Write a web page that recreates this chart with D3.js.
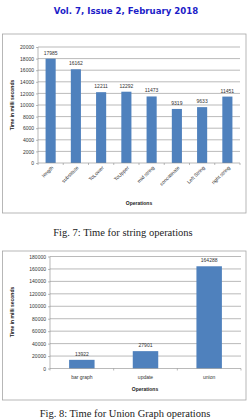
<!DOCTYPE html>
<html>
<head>
<meta charset="utf-8">
<script src="https://cdn.jsdelivr.net/npm/d3@7"></script>
<style>
  body { margin: 0; background: #fff; }
  svg { display: block; }
  .tick text { font-family: "Liberation Sans", Arial, sans-serif; font-size: 5px; fill: #333; }
  .lbl { font-family: "Liberation Sans", Arial, sans-serif; font-size: 5px; fill: #333; }
  .atitle { font-family: "Liberation Sans", Arial, sans-serif; font-size: 5px; font-weight: bold; fill: #222; }
  .cap { font-family: "Liberation Serif", "Times New Roman", serif; font-size: 10.5px; fill: #222; }
</style>
</head>
<body>
<svg id="page" width="252" height="420"></svg>
<script>
var stringOps = ["length", "substitute", "ToLower", "ToUpper", "mid string", "concatinate", "Left String", "right string"],
    stringTimes = [17985, 16162, 12211, 12292, 11473, 9319, 9633, 11451],
    stringTicks = [0, 2000, 4000, 6000, 8000, 10000, 12000, 14000, 16000, 18000, 20000];

var unionOps = ["bar graph", "update", "union"],
    unionTimes = [13922, 27901, 164288],
    unionTicks = [0, 20000, 40000, 60000, 80000, 100000, 120000, 140000, 160000, 180000];

var svg = d3.select("#page");

svg.append("text")
    .attr("x", 126).attr("y", 14)
    .attr("text-anchor", "middle")
    .style("font-family", "DejaVu Sans, Verdana, sans-serif")
    .style("font-weight", "bold")
    .style("font-size", "8.6px")
    .style("fill", "#1c1cc8")
    .text("Vol. 7, Issue 2, February 2018");

// box = [x, y, w, h], plot = [left, top, right, bottom]
function drawChart(cats, vals, ticks, box, plot, rotate) {
  var g = svg.append("g");

  g.append("rect")
      .attr("x", box[0]).attr("y", box[1])
      .attr("width", box[2]).attr("height", box[3])
      .attr("fill", "#fff").attr("stroke", "#a6a6a6").attr("stroke-width", 0.8);

  var x = d3.scaleBand().domain(cats).range([plot[0], plot[2]]).paddingInner(0.6).paddingOuter(0.3);
  var y = d3.scaleLinear().domain([0, d3.max(ticks)]).range([plot[3], plot[1]]);

  // gridlines
  g.selectAll(".grid").data(ticks.slice(1)).enter().append("line")
      .attr("x1", plot[0]).attr("x2", plot[2])
      .attr("y1", function(d) { return y(d); }).attr("y2", function(d) { return y(d); })
      .attr("stroke", "#8c8c8c").attr("stroke-width", 0.6);

  var yAxis = g.append("g")
      .attr("transform", "translate(" + plot[0] + ",0)")
      .call(d3.axisLeft(y).tickValues(ticks).tickSize(2).tickPadding(2).tickFormat(d3.format("d")));
  yAxis.selectAll("line, path").attr("stroke", "#8c8c8c").attr("stroke-width", 0.6);
  yAxis.select(".domain").attr("d", "M0," + plot[3] + "V" + plot[1]);

  g.selectAll(".bar").data(vals).enter().append("rect")
      .attr("x", function(d, i) { return x(cats[i]); })
      .attr("width", x.bandwidth())
      .attr("y", function(d) { return y(d); })
      .attr("height", function(d) { return plot[3] - y(d); })
      .attr("fill", "#4f81bd");

  g.selectAll(".val").data(vals).enter().append("text")
      .attr("class", "lbl")
      .attr("x", function(d, i) { return x(cats[i]) + x.bandwidth() / 2; })
      .attr("y", function(d) { return y(d) - 4; })
      .attr("text-anchor", "middle")
      .text(function(d) { return d; });

  // x axis with ticks between categories
  var step = x.step();
  var xAxis = g.append("g").attr("transform", "translate(0," + plot[3] + ")");
  xAxis.append("line").attr("x1", plot[0]).attr("x2", plot[2])
      .attr("stroke", "#8c8c8c").attr("stroke-width", 0.6);
  xAxis.selectAll(".xt").data(d3.range(cats.length + 1)).enter().append("line")
      .attr("x1", function(i) { return plot[0] + i * step; })
      .attr("x2", function(i) { return plot[0] + i * step; })
      .attr("y1", 0).attr("y2", 2)
      .attr("stroke", "#8c8c8c").attr("stroke-width", 0.6);
  xAxis.selectAll(".xl").data(cats).enter().append("text")
      .attr("class", "lbl")
      .attr("transform", function(d) {
        var cx = x(d) + x.bandwidth() / 2;
        return rotate ? "translate(" + (cx + 3) + ",5) rotate(-45)" : "translate(" + cx + ",10)";
      })
      .attr("text-anchor", rotate ? "end" : "middle")
      .text(function(d) { return d; });

  return { x: x, y: y };
}

drawChart(stringOps, stringTimes, stringTicks, [2.5, 34, 243.5, 179], [38, 47, 240, 163], true);
svg.append("text").attr("class", "atitle")
    .attr("transform", "translate(14,105) rotate(-90)")
    .attr("text-anchor", "middle").text("Time in milli seconds");
svg.append("text").attr("class", "atitle")
    .attr("x", 139).attr("y", 205).attr("text-anchor", "middle").text("Operations");
svg.append("text").attr("class", "cap")
    .attr("x", 123).attr("y", 236).attr("text-anchor", "middle")
    .text("Fig. 7: Time for string operations");

drawChart(unionOps, unionTimes, unionTicks, [2.5, 251, 243.5, 149], [50, 256.5, 241, 368.5], false);
svg.append("text").attr("class", "atitle")
    .attr("transform", "translate(14,312) rotate(-90)")
    .attr("text-anchor", "middle").text("Time in milli seconds");
svg.append("text").attr("class", "atitle")
    .attr("x", 145).attr("y", 391).attr("text-anchor", "middle").text("Operations");
svg.append("text").attr("class", "cap")
    .attr("x", 125).attr("y", 417).attr("text-anchor", "middle")
    .text("Fig. 8: Time for Union Graph operations");
</script>
</body>
</html>
